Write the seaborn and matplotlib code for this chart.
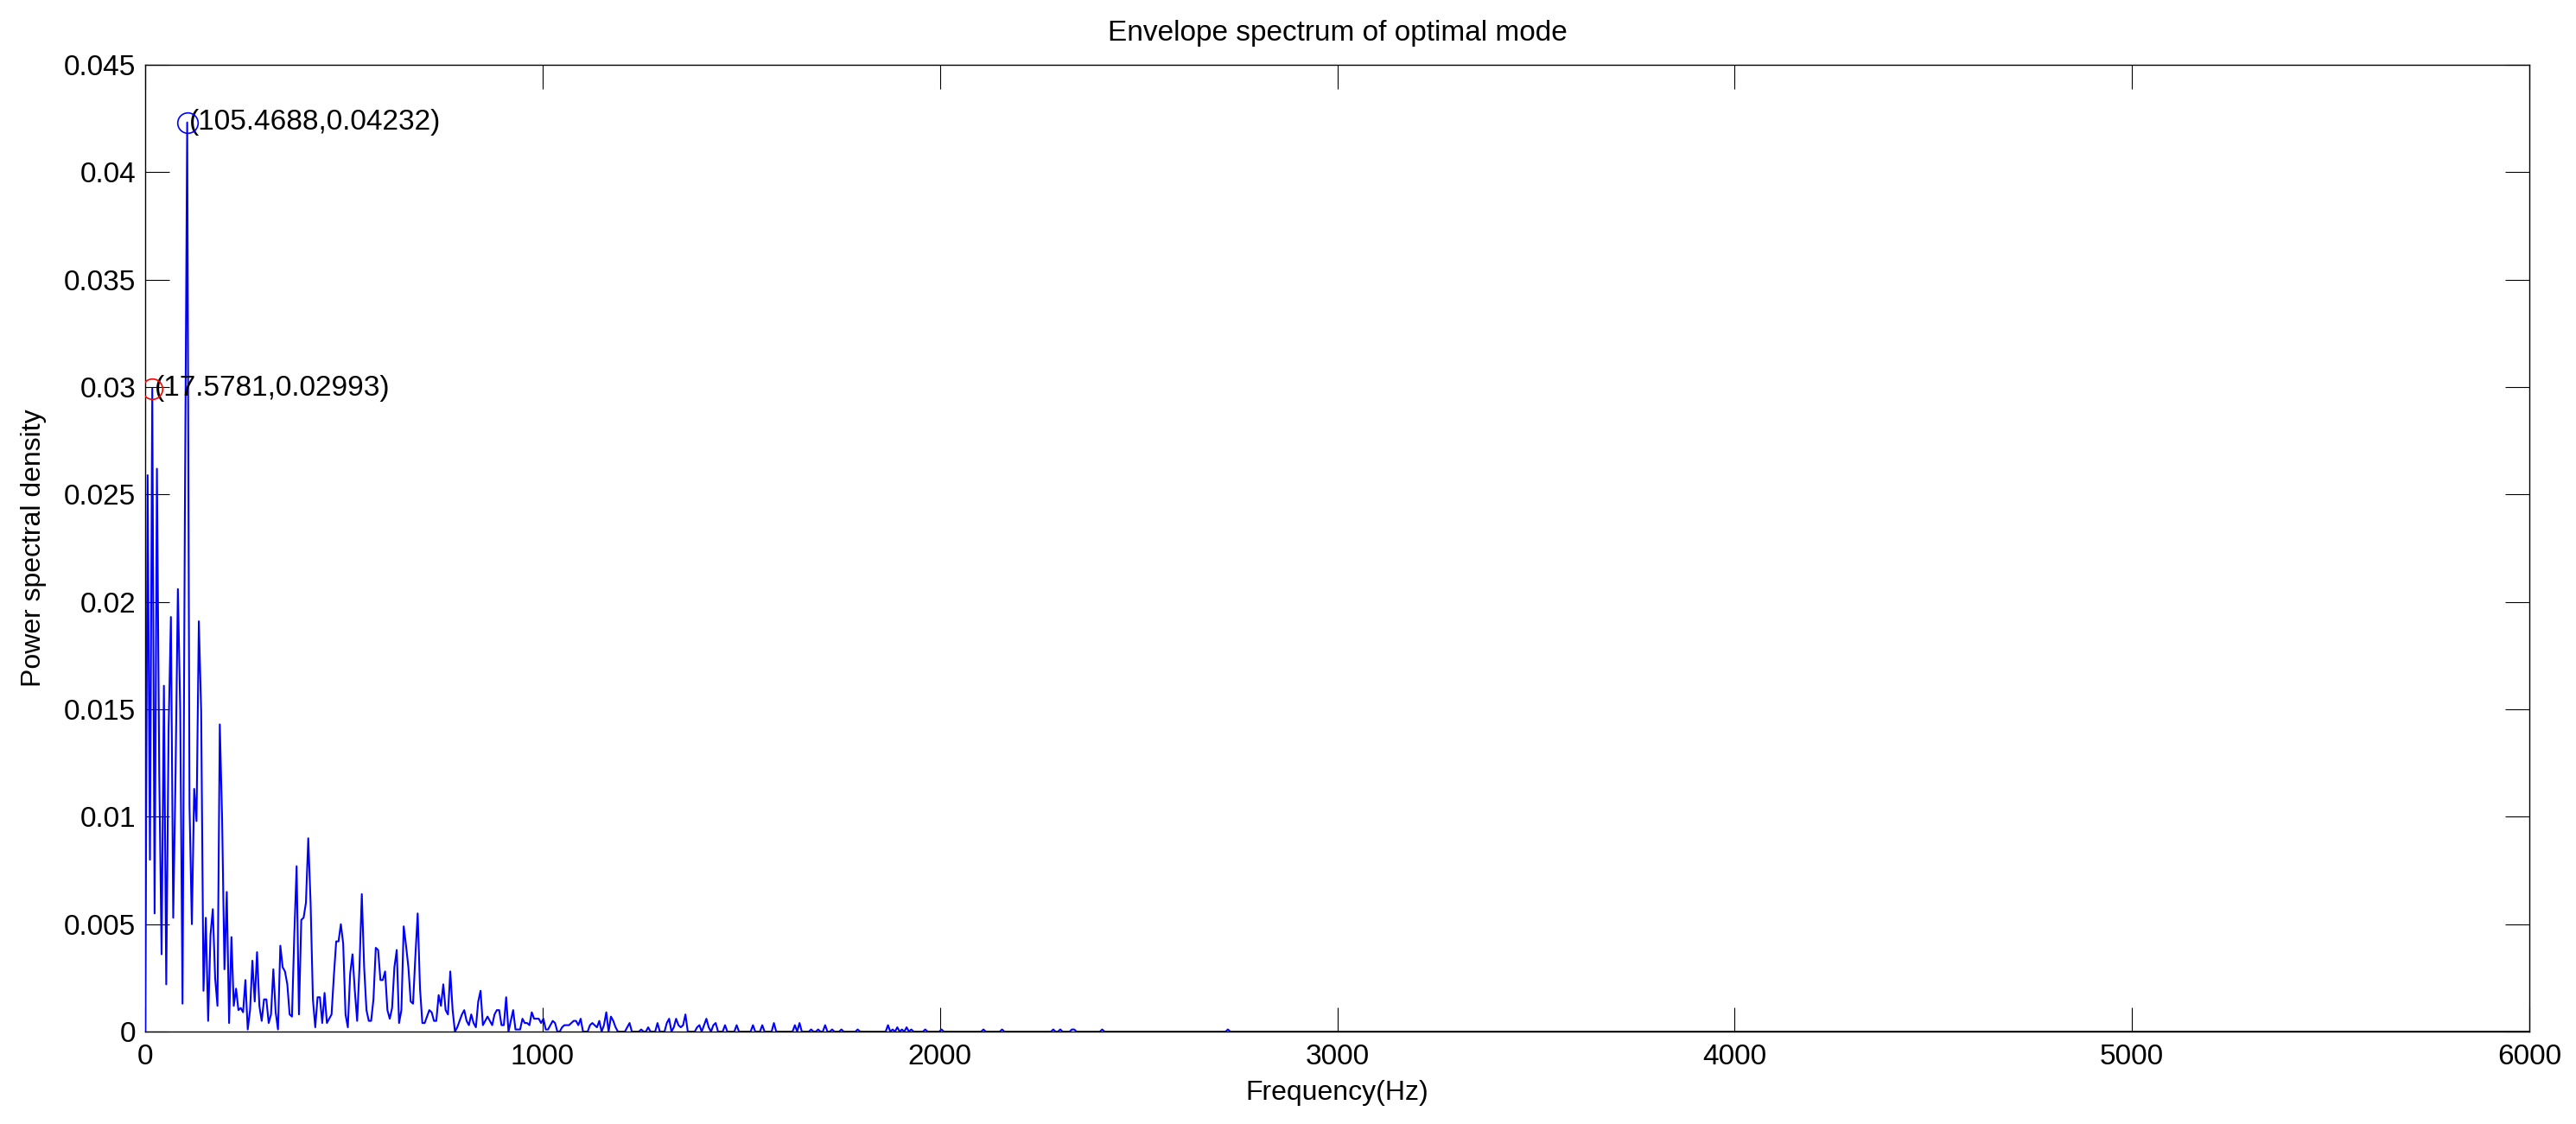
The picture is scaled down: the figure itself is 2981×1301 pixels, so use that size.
import numpy as np
import pandas as pd
import matplotlib
matplotlib.use("Agg")
import matplotlib.pyplot as plt
import seaborn as sns

# envelope spectrum, bin spacing 5.859375 Hz (0 .. 6000 Hz)
freq_step = 5.859375
n_bins = 1025

# bins 0..175 (0 .. ~1025 Hz)
psd_low = [
    0.0, 0.0259, 0.0080, 0.02993, 0.0055, 0.0262, 0.0120, 0.0036, 0.0161, 0.0022,
    0.0140, 0.0193, 0.0053, 0.0120, 0.0206, 0.0150, 0.0013, 0.0240, 0.04232, 0.0105,
    0.0050, 0.0113, 0.0098, 0.0191, 0.0149, 0.0019, 0.0053, 0.0005, 0.0045, 0.0057,
    0.0025, 0.0012, 0.0143, 0.0099, 0.0029, 0.0065, 0.0004, 0.0044, 0.0012, 0.0020,
    0.0010, 0.0011, 0.0009, 0.0024, 0.0001, 0.0010, 0.0033, 0.0014, 0.0037, 0.0012,
    0.0005, 0.0015, 0.0015, 0.0004, 0.0008, 0.0029, 0.0009, 0.0001, 0.0040, 0.0030,
    0.0028, 0.0022, 0.0008, 0.0007, 0.0045, 0.0077, 0.0008, 0.0052, 0.0053, 0.0060,
    0.0090, 0.0060, 0.0015, 0.0002, 0.0016, 0.0016, 0.0004, 0.0018, 0.0004, 0.0006,
    0.0008, 0.0026, 0.0042, 0.0042, 0.0050, 0.0041, 0.0008, 0.0002, 0.0027, 0.0036,
    0.0019, 0.0005, 0.0030, 0.0064, 0.0030, 0.0010, 0.0005, 0.0005, 0.0015, 0.0039,
    0.0038, 0.0024, 0.0024, 0.0028, 0.0010, 0.0006, 0.0011, 0.0030, 0.0038, 0.0004,
    0.0010, 0.0049, 0.0040, 0.0030, 0.0014, 0.0013, 0.0035, 0.0055, 0.0020, 0.0004,
    0.0004, 0.0007, 0.0010, 0.0009, 0.0005, 0.0005, 0.0017, 0.0012, 0.0022, 0.0010,
    0.0008, 0.0028, 0.0010, 0.0000, 0.0002, 0.0005, 0.0008, 0.0010, 0.0005, 0.0003,
    0.0008, 0.0004, 0.0002, 0.0014, 0.0019, 0.0003, 0.0005, 0.0007, 0.0005, 0.0003,
    0.0008, 0.0010, 0.0010, 0.0003, 0.0003, 0.0016, 0.0000, 0.0005, 0.0010, 0.0001,
    0.0001, 0.0001, 0.0006, 0.0004, 0.0004, 0.0003, 0.0009, 0.0006, 0.0006, 0.0006,
    0.0004, 0.0006, 0.0001, 0.0001, 0.0003, 0.0005,
]

# small bumps above ~1025 Hz (everything else sits on zero)
tail_bins = [176, 179, 180, 181, 182, 183, 184, 185, 186, 187, 191, 192, 193, 194,
             195, 197, 198, 200, 201, 202, 207, 208, 213, 216, 220, 224, 225, 227,
             228, 229, 230, 231, 232, 237, 238, 240, 241, 242, 244, 245, 249, 254,
             261, 265, 270, 279, 281, 286, 289, 292, 295, 299, 306, 319, 321, 323,
             325, 327, 329, 335, 342, 360, 368, 390, 393, 398, 399, 411, 465]
tail_vals = [0.0004, 0.0002, 0.0003, 0.0003, 0.0003, 0.0004, 0.0005, 0.0005, 0.0003,
             0.0006, 0.0003, 0.0004, 0.0003, 0.0002, 0.0005, 0.0003, 0.0009, 0.0007,
             0.0005, 0.0002, 0.0002, 0.0004, 0.0001, 0.0002, 0.0004, 0.0004, 0.0006,
             0.0002, 0.0006, 0.0003, 0.0002, 0.0003, 0.0008, 0.0002, 0.0003, 0.0003,
             0.0006, 0.0002, 0.0003, 0.0004, 0.0003, 0.0003, 0.0003, 0.0003, 0.0004,
             0.0003, 0.0004, 0.0001, 0.0001, 0.0003, 0.0001, 0.0001, 0.0001, 0.0003,
             0.0001, 0.0002, 0.0001, 0.0002, 0.0001, 0.0001, 0.0001, 0.0001, 0.0001,
             0.0001, 0.0001, 0.0001, 0.0001, 0.0001, 0.0001]

# marked peaks
peak_freqs = [105.4688, 17.5781]
peak_vals = [0.04232, 0.02993]
peak_colors = ["#0000FF", "#FF0000"]
peak_labels = ["(105.4688,0.04232)", "(17.5781,0.02993)"]

xticks = [0, 1000, 2000, 3000, 4000, 5000, 6000]
yticks = [0, 0.005, 0.01, 0.015, 0.02, 0.025, 0.03, 0.035, 0.04, 0.045]
ytick_labels = ["0", "0.005", "0.01", "0.015", "0.02", "0.025", "0.03", "0.035", "0.04", "0.045"]

psd = np.zeros(n_bins)
psd[:len(psd_low)] = psd_low
psd[tail_bins] = tail_vals
df = pd.DataFrame({"Frequency": np.arange(n_bins) * freq_step, "PSD": psd})

sns.set_theme(style="white")
plt.rcParams["font.family"] = ["Liberation Sans", "DejaVu Sans"]

fig = plt.figure(figsize=(29.81, 13.01), dpi=100)
ax = fig.add_axes([0.0564, 0.0822, 0.9255, 0.8601])

sns.lineplot(data=df, x="Frequency", y="PSD", color="#0000FF", linewidth=1.5, ax=ax, zorder=3)

for f, v, c, lab in zip(peak_freqs, peak_vals, peak_colors, peak_labels):
    ax.plot(f, v, "o", markersize=17, markerfacecolor="none", markeredgecolor=c, markeredgewidth=1.2, zorder=4)
    ax.text(f + 5, v, lab, ha="left", va="center", fontsize=24, color="black")

ax.set_xlim(0, 6000)
ax.set_ylim(0, 0.045)
ax.set_xticks(xticks)
ax.set_xticklabels([str(t) for t in xticks])
ax.set_yticks(yticks)
ax.set_yticklabels(ytick_labels)
ax.tick_params(direction="in", length=20, width=0.8, labelsize=24, top=True, right=True,
               bottom=True, left=True, colors="black", pad=8)
ax.tick_params(axis="x", pad=10)
for s in ax.spines.values():
    s.set_visible(True)
    s.set_color("black")
    s.set_linewidth(1.0)
ax.grid(False)

ax.set_xlabel("Frequency(Hz)", fontsize=23, labelpad=8, color="black")
ax.set_ylabel("Power spectral density", fontsize=23, labelpad=14, color="black")
ax.set_title("Envelope spectrum of optimal mode", fontsize=24, pad=20, color="black")

fig.savefig("out.png", dpi=100, facecolor="white")
